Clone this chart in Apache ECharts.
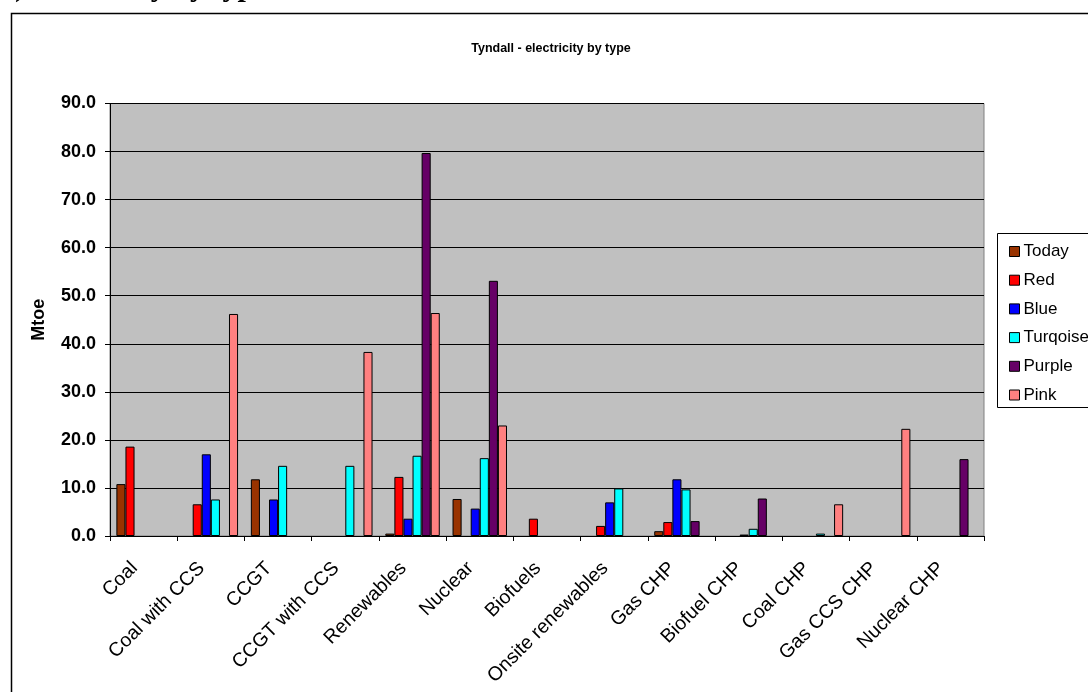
<!DOCTYPE html>
<html>
<head>
<meta charset="utf-8">
<script src="https://cdn.jsdelivr.net/npm/echarts@6/dist/echarts.min.js"></script>
<style>
html,body{margin:0;padding:0;background:#fff;}
#chart{width:1088px;height:692px;}
</style>
</head>
<body>
<div id="chart"></div>
<script>
var categories = ['Coal','Coal with CCS','CCGT','CCGT with CCS','Renewables','Nuclear','Biofuels','Onsite renewables','Gas CHP','Biofuel CHP','Coal CHP','Gas CCS CHP','Nuclear CHP'];
var seriesNames = ['Today','Red','Blue','Turqoise','Purple','Pink'];
var today    = [10.8, 0,    11.8, 0,    0.5,  7.7,  0,   0,   1.0,  0,   0,   0,    0];
var red      = [18.6, 6.6,  0,    0,    12.3, 0,    3.6, 2.1, 2.9,  0,   0,   0,    0];
var blue     = [0,    17.0, 7.6,  0,    3.6,  5.7,  0,   7.0, 11.8, 0.3, 0,   0,    0];
var turqoise = [0,    7.6,  14.6, 14.6, 16.7, 16.2, 0,   9.9, 9.7,  1.5, 0.5, 0,    0];
var purple   = [0,    0,    0,    0,    79.7, 53.1, 0,   0,   3.1,  7.8, 0,   0,    16.0];
var pink     = [0,    46.2, 0,    38.3, 46.4, 23.0, 0,   0,   0,    0,   6.6, 22.3, 0];
var yTicks = [0,10,20,30,40,50,60,70,80,90];

var seriesData = [today, red, blue, turqoise, purple, pink];
var colors = ['#993300','#FF0000','#0000FF','#00FFFF','#660066','#FF8080'];

var chart = echarts.init(document.getElementById('chart'), null, {renderer:'canvas'});
var series = seriesNames.map(function(n,i){
  return {
    name: n, type: 'bar',
    data: seriesData[i].map(function(v){ return v === 0 ? '-' : v; }),
    barGap: '0%', barCategoryGap: '19%',
    itemStyle: {color: colors[i], borderColor: '#000', borderWidth: 1},
    emphasis: {disabled: true}
  };
});

chart.setOption({
  animation: false,
  backgroundColor: '#fff',
  color: colors,
  title: {
    text: 'Tyndall - electricity by type',
    left: 546, top: 37, textAlign: 'center',
    textStyle: {fontFamily: 'Liberation Sans, Arial', fontWeight: 'bold', fontSize: 12.5, color: '#000'}
  },
  grid: {left: 110, right: 104, top: 103.5, bottom: 156, show: true, backgroundColor: '#C0C0C0', borderColor: '#808080', borderWidth: 1},
  legend: {
    orient: 'vertical', left: 1004, top: 238,
    itemWidth: 10, itemHeight: 10, itemGap: 11.7, icon: 'rect',
    data: seriesNames,
    itemStyle: {borderColor: '#000', borderWidth: 1},
    textStyle: {fontFamily: 'Liberation Sans, Arial', fontSize: 17, color: '#000', padding: [0,0,0,-1]}
  },
  xAxis: {
    type: 'category', data: categories,
    axisLine: {show: true, lineStyle: {color: '#000', width: 1}},
    axisTick: {show: true, length: 5, alignWithLabel: false, lineStyle: {color: '#000'}},
    axisLabel: {rotate: 45, interval: 0, margin: 20, padding: [0, 13, 0, 0], fontFamily: 'Liberation Sans, Arial', fontSize: 19.5, color: '#000'},
    splitLine: {show: false}
  },
  yAxis: {
    type: 'value', min: 0, max: 90, interval: 10,
    name: 'Mtoe', nameLocation: 'middle', nameGap: 62, nameRotate: 90,
    nameTextStyle: {fontFamily: 'Liberation Sans, Arial', fontWeight: 'bold', fontSize: 18, color: '#000'},
    axisLine: {show: true, lineStyle: {color: '#000', width: 1}},
    axisTick: {show: true, length: 5, inside: false, lineStyle: {color: '#000'}},
    axisLabel: {margin: 14, fontFamily: 'Liberation Sans, Arial', fontWeight: 'bold', fontSize: 18, color: '#000',
      formatter: function(v){ return yTicks.indexOf(v) >= 0 ? v.toFixed(1) : ''; }},
    splitLine: {show: true, lineStyle: {color: '#000', width: 1}}
  },
  series: series,
  graphic: [
    {type: 'rect', left: 9, top: 11, shape: {width: 1090, height: 700}, style: {fill: 'none', stroke: '#000', lineWidth: 1.5}, z: 100, silent: true},
    {type: 'rect', left: 997, top: 233, shape: {width: 100, height: 174}, style: {fill: '#fff', stroke: '#000', lineWidth: 1}, z: -1, silent: true},
    {type: 'text', left: 0, top: -27, style: {text: '3) Electricity by type', font: 'bold 30px "Liberation Serif", "Times New Roman"', fill: '#000'}, z: 100, silent: true}
  ]
});
</script>
</body>
</html>
